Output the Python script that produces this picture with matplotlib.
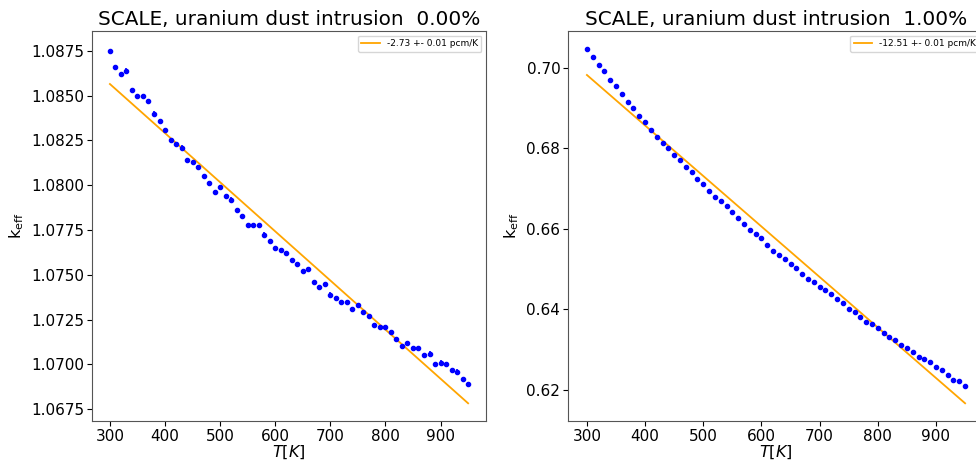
import numpy as np
import matplotlib
matplotlib.use("Agg")
from matplotlib import pyplot as plt

# temperatures [K]
T = np.arange(300, 951, 10)

# k_eff, 0.00% uranium dust
k_0 = [1.0875, 1.0866, 1.0862, 1.0864, 1.0853, 1.0850, 1.0850, 1.0847, 1.0840, 1.0836,
       1.0831, 1.0825, 1.0823, 1.0821, 1.0814, 1.0813, 1.0810, 1.0805, 1.0801, 1.0796,
       1.0799, 1.0794, 1.0792, 1.0786, 1.0783, 1.0778, 1.0778, 1.0778, 1.07725, 1.0769,
       1.0765, 1.0764, 1.0762, 1.0758, 1.0756, 1.0752, 1.0753, 1.0746, 1.0743, 1.0745,
       1.0739, 1.0737, 1.0735, 1.0735, 1.0731, 1.0733, 1.0729, 1.0727, 1.0722, 1.0721,
       1.0721, 1.0718, 1.0714, 1.0710, 1.0712, 1.0709, 1.0709, 1.0705, 1.0706, 1.0700,
       1.0701, 1.0700, 1.0697, 1.0696, 1.0692, 1.0689]

# k_eff, 1.00% uranium dust
k_1 = [0.7046, 0.7026, 0.7007, 0.6991, 0.6969, 0.6955, 0.6934, 0.6916, 0.6900, 0.6881,
       0.6865, 0.6845, 0.6827, 0.6812, 0.6801, 0.6784, 0.6772, 0.6753, 0.6740, 0.6725,
       0.6712, 0.6694, 0.6680, 0.6668, 0.6656, 0.6642, 0.6627, 0.6611, 0.6597, 0.6586,
       0.6578, 0.6559, 0.6545, 0.6534, 0.6525, 0.6514, 0.6502, 0.6489, 0.6476, 0.6469,
       0.6455, 0.6448, 0.6438, 0.6425, 0.6416, 0.6402, 0.6393, 0.6382, 0.6370, 0.6363,
       0.6353, 0.6341, 0.6332, 0.6323, 0.6311, 0.6305, 0.6295, 0.6283, 0.6276, 0.6270,
       0.6258, 0.6249, 0.6236, 0.6226, 0.6223, 0.6211]

k_err = 0.00012

# linear fit ends (at 300 K and 950 K)
T_fit = [300, 950]
fit_0 = [1.08565, 1.06783]
fit_1 = [0.6982, 0.6167]

titles = ["SCALE, uranium dust intrusion  0.00%", "SCALE, uranium dust intrusion  1.00%"]
fit_labels = ["-2.73 +- 0.01 pcm/K", "-12.51 +- 0.01 pcm/K"]

W, H = 976, 461
fig = plt.figure(figsize=(W / 100, H / 100), dpi=100)
ax0 = fig.add_axes([92 / W, 40 / H, 394 / W, 390 / H])
ax1 = fig.add_axes([568 / W, 40 / H, 416 / W, 390 / H])

for ax, k, fit, title, lab in zip([ax0, ax1], [k_0, k_1], [fit_0, fit_1], titles, fit_labels):
    ax.errorbar(T, k, yerr=k_err, fmt='.', color='blue', markersize=6, elinewidth=1.2)
    ax.plot(T_fit, fit, color='orange', lw=1.3, label=lab)
    ax.set_title(title, fontsize=14.4, pad=4)
    ax.set_xlabel(r"$T[K]$", fontsize=11.5, labelpad=0)
    ax.set_ylabel(r"k$_{\mathrm{eff}}$", fontsize=11.5)
    ax.tick_params(labelsize=11, length=3.5, pad=2)
    ax.set_xticks([300, 400, 500, 600, 700, 800, 900])
    ax.legend(loc='upper right', fontsize=6.5)
    for s in ax.spines.values():
        s.set_color('#555555')

ax0.set_yticks([1.0675, 1.0700, 1.0725, 1.0750, 1.0775, 1.0800, 1.0825, 1.0850, 1.0875])
ax0.yaxis.set_major_formatter(matplotlib.ticker.FormatStrFormatter('%.4f'))
ax1.set_yticks([0.62, 0.64, 0.66, 0.68, 0.70])

fig.savefig("out.png", dpi=100)
